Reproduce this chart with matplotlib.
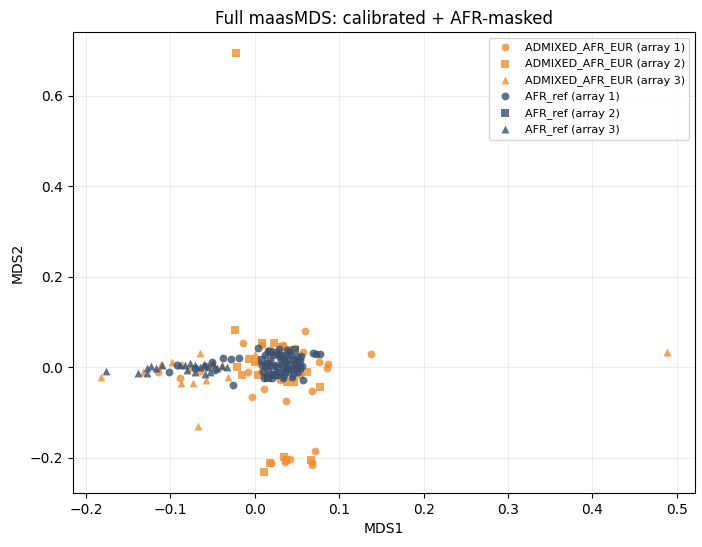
import matplotlib
matplotlib.use("Agg")
import matplotlib.pyplot as plt

# ADMIXED_AFR_EUR
adm1_x = [0.138, 0.059, -0.014, -0.003, 0.011, 0.037, 0.068, 0.071, 0.042, 0.036, 0.019, 0.068,
          0.076, 0.087, 0.085, 0.057, -0.115, 0.008, 0.018, 0.004, 0.053, 0.030, 0.012, 0.045,
          0.033, 0.048, -0.008, -0.052, -0.065, -0.089, 0.068]
adm1_y = [0.029, 0.079, 0.053, -0.066, -0.049, -0.075, -0.053, -0.185, -0.203, -0.209, -0.212, -0.216,
          0.011, 0.007, -0.002, 0.033, -0.011, 0.049, 0.037, 0.011, -0.018, -0.029, -0.018, 0.015,
          0.049, 0.042, -0.011, 0.004, -0.009, -0.024, -0.209]

adm2_x = [-0.022, -0.024, 0.008, 0.023, 0.032, -0.007, -0.021, -0.015, 0.004, 0.062, 0.038, 0.046,
          0.077, 0.016, 0.000, 0.034, 0.037, 0.018, 0.011, 0.066, 0.024, 0.041]
adm2_y = [0.695, 0.082, 0.053, 0.053, 0.044, 0.018, 0.000, -0.018, -0.018, -0.011, -0.033, -0.033,
          -0.044, -0.024, 0.011, -0.198, -0.205, -0.212, -0.232, -0.205, 0.026, 0.037]

adm3_x = [0.488, -0.182, -0.132, -0.111, -0.088, -0.073, -0.065, -0.058, -0.032, -0.050, -0.086,
          -0.067, -0.039, -0.077, -0.098, 0.000, 0.030, 0.006]
adm3_y = [0.033, -0.022, -0.011, 0.007, -0.035, -0.035, 0.031, -0.029, -0.022, 0.007, 0.007,
          -0.130, 0.004, -0.002, 0.011, 0.029, 0.011, -0.007]

# AFR_ref
afr1_x = [-0.102, -0.026, 0.069, 0.077, -0.092, 0.004, -0.038, -0.028, -0.019, 0.012, 0.018, 0.024,
          0.030, 0.036, 0.042, 0.047, 0.053, 0.016, 0.027, 0.039, 0.051, 0.033, 0.020, 0.056, 0.008,
          0.038, 0.025, 0.045, 0.057, 0.011, -0.051, -0.059, -0.047, -0.071, 0.072,
          0.015, 0.021, 0.028, 0.034, 0.040, 0.046, 0.050, 0.014, 0.022, 0.031, 0.043, 0.049,
          0.019, 0.026, 0.035, 0.044, 0.010, 0.055, 0.029, 0.037]
afr1_y = [-0.011, -0.040, 0.031, 0.029, 0.004, 0.042, 0.020, 0.018, 0.020, 0.026, 0.015, 0.004,
          0.020, 0.011, 0.026, 0.004, 0.015, -0.007, -0.011, -0.007, -0.011, -0.024, -0.024, 0.002,
          0.004, 0.037, 0.033, -0.015, -0.029, -0.024, 0.011, 0.002, -0.007, -0.002, 0.030,
          0.035, 0.028, 0.030, 0.022, 0.033, 0.018, 0.008, 0.009, 0.002, 0.006, -0.003, -0.004,
          -0.015, -0.018, -0.017, -0.021, -0.010, 0.024, 0.040, 0.000]

afr2_x = [0.016, 0.018, 0.032, 0.042, 0.027, 0.051, 0.008, 0.036, 0.048, 0.024, 0.053, 0.038, 0.013]
afr2_y = [-0.024, 0.033, 0.024, 0.004, -0.002, 0.020, 0.015, -0.011, 0.037, -0.018, -0.002, 0.015, 0.002]

afr3_x = [-0.176, -0.138, -0.128, -0.128, -0.123, -0.117, -0.110, -0.089, -0.083, -0.077, -0.071,
          -0.065, -0.060, -0.056, -0.050, -0.045, -0.039, -0.033, -0.080, -0.071, -0.053, -0.059,
          0.018, 0.036]
afr3_y = [-0.009, -0.013, -0.013, -0.002, 0.002, -0.002, 0.004, 0.004, 0.004, 0.009, 0.004,
          0.000, 0.007, 0.000, 0.009, -0.002, 0.002, 0.000, -0.007, -0.011, -0.011, -0.015,
          0.011, -0.002]

ORANGE = "#F28E2B"
BLUE = "#37506F"

fig = plt.figure(figsize=(7.02, 5.47), dpi=100)
ax = fig.add_axes([0.104, 0.0987, 0.886, 0.8428])

series = [
    (adm1_x, adm1_y, ORANGE, "o", "ADMIXED_AFR_EUR (array 1)"),
    (adm2_x, adm2_y, ORANGE, "s", "ADMIXED_AFR_EUR (array 2)"),
    (adm3_x, adm3_y, ORANGE, "^", "ADMIXED_AFR_EUR (array 3)"),
    (afr1_x, afr1_y, BLUE, "o", "AFR_ref (array 1)"),
    (afr2_x, afr2_y, BLUE, "s", "AFR_ref (array 2)"),
    (afr3_x, afr3_y, BLUE, "^", "AFR_ref (array 3)"),
]
for xs, ys, c, m, lab in series:
    ax.scatter(xs, ys, s=32, c=c, marker=m, alpha=0.8, linewidths=0, label=lab)

ax.grid(True, alpha=0.22)
ax.set_axisbelow(True)
ax.set_title("Full maasMDS: calibrated + AFR-masked")
ax.set_xlabel("MDS1")
ax.set_ylabel("MDS2")
ax.legend(loc="upper right", fontsize=8)
fig.savefig("out.png", dpi=100)
